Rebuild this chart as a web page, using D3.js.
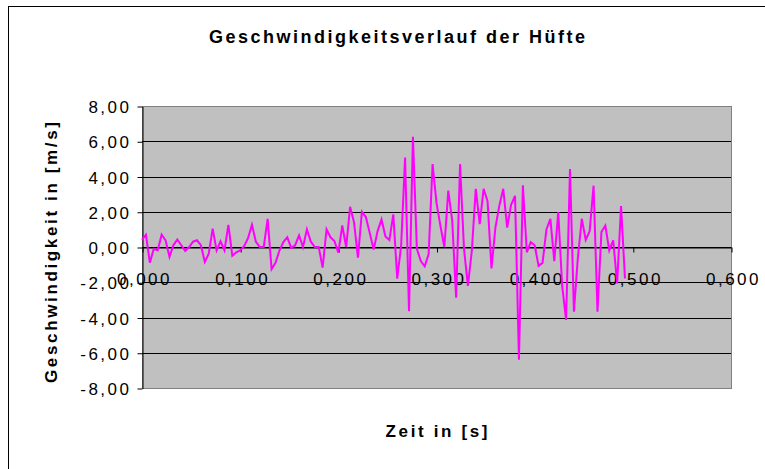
<!DOCTYPE html>
<html>
<head>
<meta charset="utf-8">
<script src="https://cdn.jsdelivr.net/npm/d3@7/dist/d3.min.js"></script>
<style>
    body { margin: 0; background: #fff; }
    svg text { font-family: Arial, "Liberation Sans", sans-serif; fill: #000; }
</style>
</head>
<body>
<div id="root"></div>
<script>
// chart data
const title = 'Geschwindigkeitsverlauf der Hüfte';
const xTitle = 'Zeit in [s]';
const yTitle = 'Geschwindigkeit in [m/s]';
const xTicks = [0, 0.1, 0.2, 0.3, 0.4, 0.5, 0.6];
const yTicks = [-8, -6, -4, -2, 0, 2, 4, 6, 8];
const sampleInterval = 0.004; // s between samples
const speed = [
    0.41, 0.70, -0.89, -0.10, -0.19, 0.70, 0.38, -0.56, 0.10, 0.43,
    0.10, -0.22, 0.00, 0.30, 0.38, 0.10, -0.85, -0.38, 1.04, -0.19,
    0.32, -0.19, 1.26, -0.50, -0.30, -0.19, 0.05, 0.50, 1.26, 0.30,
    0.00, 0.00, 1.60, -1.26, -0.90, -0.20, 0.28, 0.55, -0.05, 0.10,
    0.66, 0.00, 1.00, 0.30, 0.00, 0.00, -1.17, 1.00, 0.55, 0.34,
    -0.32, 1.22, 0.00, 2.28, 1.40, -0.60, 2.00, 1.70, 0.80, -0.15,
    0.90, 1.56, 0.60, 0.40, 1.85, -1.80, 0.10, 5.08, -3.65, 6.25,
    -0.10, -0.80, -1.10, -0.40, 4.70, 2.50, 1.20, 0.00, 3.20, 1.50,
    -2.88, 4.70, -0.10, -2.20, -0.20, 3.30, 1.30, 3.30, 2.60, -1.22,
    1.10, 2.35, 3.30, 1.10, 2.40, 2.90, -6.40, 3.50, -0.30, 0.28,
    0.10, -1.07, -0.90, 1.00, 1.60, -0.80, 1.98, -2.20, -4.14, 4.43,
    -3.67, -0.60, 1.60, 0.40, 0.90, 3.48, -3.67, 0.85, 1.22, -0.19,
    0.38, -2.07, 2.32, -1.79
];

let width = 765,
    height = 469,
    plot = { left: 142, right: 731, top: 106, bottom: 388 };

let svg = d3.select('#root').append('svg')
    .attr('width', width)
    .attr('height', height);

// chart frame (cut off at right and bottom like the original)
svg.append('rect')
    .attr('x', 8.5).attr('y', 6.5)
    .attr('width', 800).attr('height', 500)
    .attr('fill', '#fff')
    .attr('stroke', '#000');

let x = d3.scaleLinear().domain([0, 0.6]).range([plot.left, plot.right]),
    y = d3.scaleLinear().domain([-8, 8]).range([plot.bottom, plot.top]);

let comma = (v, digits) => v.toFixed(digits).replace('.', ',');

// plot area
svg.append('rect')
    .attr('x', plot.left + 0.5).attr('y', plot.top + 0.5)
    .attr('width', plot.right - plot.left).attr('height', plot.bottom - plot.top)
    .attr('fill', '#c0c0c0')
    .attr('stroke', '#808080');

// gridlines
svg.append('g')
    .selectAll('line')
    .data(yTicks.filter(d => d > -8 && d < 8))
    .enter()
    .append('line')
    .attr('x1', plot.left).attr('x2', plot.right)
    .attr('y1', d => Math.round(y(d)) + 0.5).attr('y2', d => Math.round(y(d)) + 0.5)
    .attr('stroke', '#000');

// y axis
let yAxis = svg.append('g')
    .attr('transform', 'translate(' + (plot.left + 0.5) + ',0.5)')
    .call(d3.axisLeft(y).tickValues(yTicks).tickSize(5).tickSizeOuter(0).tickPadding(8)
        .tickFormat(d => comma(d, 2)));
yAxis.select('.domain').attr('stroke', '#000');
yAxis.selectAll('.tick line').attr('stroke', '#000');
yAxis.selectAll('.tick text')
    .attr('font-size', 17)
    .attr('dy', '0.36em')
    .attr('x', -11)
    .style('letter-spacing', '2.5px');

// x axis at zero
let xAxis = svg.append('g')
    .attr('transform', 'translate(0.5,' + (Math.round(y(0)) + 0.5) + ')')
    .call(d3.axisBottom(x).tickValues(xTicks).tickSize(5).tickSizeOuter(0).tickPadding(20)
        .tickFormat(d => comma(d, 3)));
xAxis.select('.domain').attr('stroke', '#000');
xAxis.selectAll('.tick line').attr('stroke', '#000');
xAxis.selectAll('.tick text')
    .attr('font-size', 17)
    .attr('dx', '1.5px')
    .style('letter-spacing', '2.5px');

// speed line
svg.append('path')
    .datum(speed)
    .attr('fill', 'none')
    .attr('stroke', '#ff00ff')
    .attr('stroke-width', 2)
    .attr('stroke-linejoin', 'miter')
    .attr('d', d3.line()
        .x((d, i) => x(i * sampleInterval))
        .y(d => y(d)));

// titles
svg.append('text')
    .attr('x', 397).attr('y', 43)
    .attr('text-anchor', 'middle')
    .attr('font-size', 18)
    .attr('font-weight', 'bold')
    .attr('textLength', 376)
    .text(title);

svg.append('text')
    .attr('x', (plot.left + plot.right) / 2).attr('y', 437)
    .attr('text-anchor', 'middle')
    .attr('font-size', 17)
    .attr('font-weight', 'bold')
    .attr('textLength', 102)
    .text(xTitle);

svg.append('text')
    .attr('transform', 'translate(57,252.5) rotate(-90)')
    .attr('text-anchor', 'middle')
    .attr('font-size', 17)
    .attr('font-weight', 'bold')
    .attr('textLength', 261)
    .text(yTitle);
</script>
</body>
</html>
